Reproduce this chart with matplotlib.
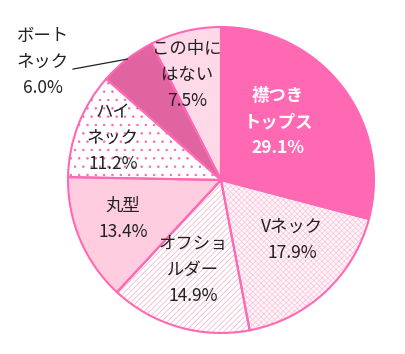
import numpy as np
import matplotlib
matplotlib.use('Agg')
import matplotlib.pyplot as plt

plt.rcParams['font.family'] = ['Noto Sans CJK JP', 'DejaVu Sans']
plt.rcParams['hatch.linewidth'] = 0.5

labels = ['襟つき\nトップス', 'Vネック', 'オフショ\nルダー', '丸型', 'ハイ\nネック', 'ボート\nネック', 'この中に\nはない']
values = [29.1, 17.9, 14.9, 13.4, 11.2, 6.0, 7.5]

face_colors = ['#FF69B4', '#FFF4F8', '#FFFFFF', '#FFCCE0', '#FFFFFF', '#E0649F', '#FFD9E8']
hatches = [None, 'xxxxxx', '//////', None, '..', None, None]
hatch_colors = ['#FF69B4', '#F9C6DB', '#F3AFCB', '#FFCCE0', '#FF5FAF', '#E0649F', '#FFD9E8']

# label centres (data units, pie radius = 1)
label_xy = [(0.373, 0.379), (0.464, -0.392), (-0.183, -0.588), (-0.641, -0.255),
            (-0.706, 0.275), (-1.163, 0.771), (-0.222, 0.686)]


def main():
    fig = plt.figure(figsize=(4.05, 3.54), dpi=100)
    ax = fig.add_axes([0, 0, 1, 1])

    wedges, _ = ax.pie(values, startangle=90, counterclock=False,
                       wedgeprops=dict(linewidth=0))
    for w, fc, h, hc in zip(wedges, face_colors, hatches, hatch_colors):
        w.set_facecolor(fc)
        w.set_edgecolor(hc)
        if h:
            w.set_hatch(h)

    # outlines on top
    ax.pie(values, startangle=90, counterclock=False,
           wedgeprops=dict(fill=False, edgecolor='#FF69B4', linewidth=1.5))

    for i, (lab, v) in enumerate(zip(labels, values)):
        x, y = label_xy[i]
        if i == 0:
            ax.text(x, y, f'{lab}\n{v:.1f}%', ha='center', va='center', fontsize=12.5,
                    color='white', fontweight='bold', linespacing=1.55)
        else:
            ax.text(x, y, f'{lab}\n{v:.1f}%', ha='center', va='center', fontsize=12.5,
                    color='#222222', linespacing=1.55)

    # leader line for ボートネック
    cum = np.cumsum([0] + values)
    mid = (cum[5] + cum[6]) / 2 / 100
    ang = np.deg2rad(90 - mid * 360)
    ax.plot([-0.967, np.cos(ang)], [0.725, np.sin(ang)], color='#222222', linewidth=0.9)

    ax.set_aspect('auto')
    ax.set_xlim(-221 / 153, (405 - 221) / 153)
    ax.set_ylim(-(354 - 180) / 153, 180 / 153)
    ax.axis('off')
    fig.savefig('out.png', dpi=100)


if __name__ == '__main__':
    main()
